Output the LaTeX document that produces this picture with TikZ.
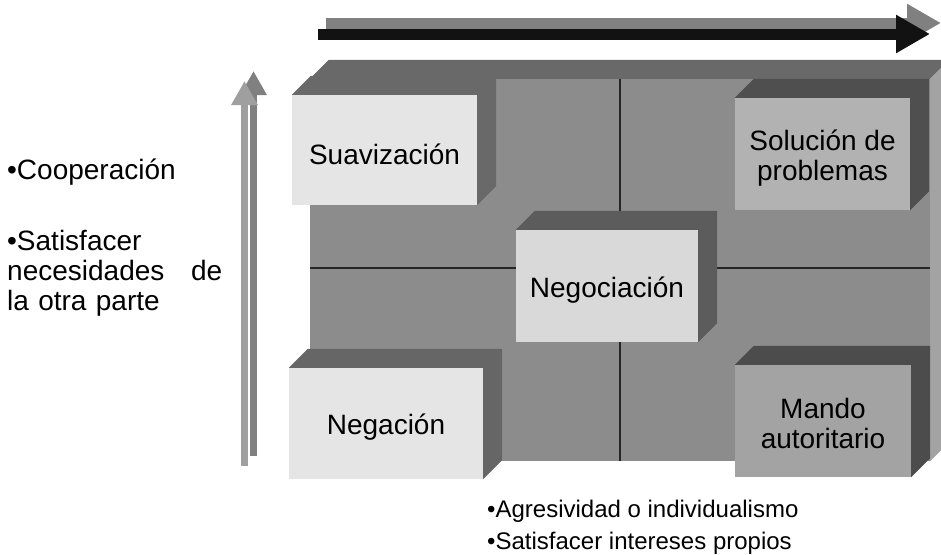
\documentclass[tikz,border=0pt]{standalone}
\usepackage{fontspec}
\setmainfont{Liberation Sans}
\usetikzlibrary{arrows.meta}
\definecolor{tablero}{gray}{0.55}
\definecolor{tableroarriba}{gray}{0.41}
\definecolor{tablerolado}{gray}{0.64}
\definecolor{claro}{gray}{0.90}
\definecolor{medio}{gray}{0.85}
\definecolor{plata}{gray}{0.70}
\definecolor{oscuro}{gray}{0.64}
\newcommand\letra{\fontsize{28}{30}\selectfont}
\newcommand\letrachica{\fontsize{24}{32}\selectfont}
% caras superior y lateral de una caja
\newcommand\caras[2]{%
  \fill[#2] (#1.north west) -- ++(19,-19) -- ([shift={(19,-19)}]#1.north east)
    -- ([shift={(19,-19)}]#1.south east) -- (#1.south east) -- (#1.north east) -- cycle;}
\tikzset{
  caja/.style={inner sep=0pt},
  rotulo/.style={inner sep=0pt, align=center, font=\letra, yshift=-4pt},
  flecha/.style={line width=11pt, -{Triangle[length=34pt,width=36pt]}},
  flechav/.style={line width=7pt, -{Triangle[length=24pt,width=25pt]}},
  texto/.style={inner sep=0pt, align=left, font=\letra}
}
\begin{document}
\begin{tikzpicture}[x=1pt,y=-1pt]
  \clip (0,0) rectangle (941,554);
  % tablero
  \node[fill=tablero, minimum width=620pt, minimum height=382pt, inner sep=0pt] (tablero) at (620,270) {};
  \fill[tableroarriba] (tablero.north west) -- ++(19,-19) -- ([shift={(19,-19)}]tablero.north east) -- (tablero.north east) -- cycle;
  \fill[tablerolado] (tablero.north east) -- ++(19,-19) -- ([shift={(19,-19)}]tablero.south east) -- (tablero.south east) -- cycle;
  \draw[line width=1.6pt, black!85] (tablero.north) -- (tablero.south);
  \draw[line width=1.6pt, black!85] ([yshift=2pt]tablero.west) -- ([yshift=2pt]tablero.east);

  % cajas
  \node[caja, fill=claro, minimum width=185pt, minimum height=110pt,
    label={[rotulo]center:Suavización}] (suav) at (384.5,150) {};
  \caras{suav}{gray!82!black}
  \node[caja, fill=plata, minimum width=175pt, minimum height=112pt,
    label={[rotulo]center:Solución de\\problemas}] (sol) at (822.5,154) {};
  \caras{sol}{gray!62!black}
  \node[caja, fill=medio, minimum width=182pt, minimum height=112pt,
    label={[rotulo]center:Negociación}] (nego) at (607,286) {};
  \caras{nego}{gray!72!black}
  \node[caja, fill=claro, minimum width=194pt, minimum height=111pt,
    label={[rotulo]center:Negación}] (negac) at (386,423.5) {};
  \caras{negac}{gray!80!black}
  \node[caja, fill=oscuro, minimum width=176pt, minimum height=112pt,
    label={[rotulo, yshift=2pt]center:Mando\\autoritario}] (mando) at (823,421) {};
  \caras{mando}{gray!60!black}

  % flechas
  \coordinate (hgA) at (326,23);
  \coordinate (hgB) at (941,23);
  \coordinate (hnA) at (318,34);
  \coordinate (hnB) at (930,34);
  \draw[flecha, gray] (hgA) -- (hgB);
  \draw[flecha, black!93] (hnA) -- (hnB);
  \coordinate (voA) at (253.5,456);
  \coordinate (voB) at (253.5,71);
  \coordinate (vcA) at (244.5,466);
  \coordinate (vcB) at (244.5,81);
  \draw[flechav, gray] (voA) -- (voB);
  \draw[flechav, gray!75] (vcA) -- (vcB);

  % textos
  \node[texto, anchor=west] (coop) at (7,172) {•Cooperación};
  \node[texto, anchor=north west, text width=215pt] (satis) at (7,230) {•Satisfacer\\necesidades\hfill de\\la otra parte};
  \node[texto, font=\letrachica, anchor=base west] (agres) at (487,517) {•Agresividad o individualismo};
  \node[texto, font=\letrachica, anchor=base west] (intereses) at ([yshift=-32pt]agres.base west) {•Satisfacer intereses propios};
\end{tikzpicture}
\end{document}
